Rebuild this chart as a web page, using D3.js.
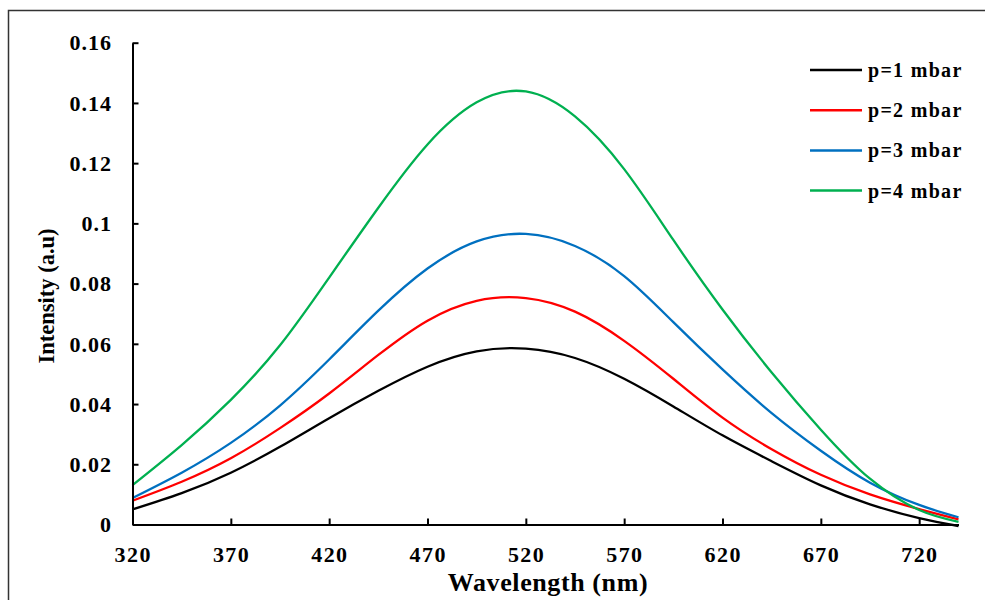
<!DOCTYPE html>
<html lang="en">

<head>
    <meta charset="UTF-8">
    <title>Intensity vs Wavelength</title>
    <style>
        body { margin: 0; background: #fff; }
        text { font-family: "Liberation Serif", "Times New Roman", serif; font-weight: bold; fill: #000; }
    </style>
</head>

<body>
    <svg id="chart" width="985" height="600"></svg>

    <script src="https://cdn.jsdelivr.net/npm/d3@7"></script>
    <script>

        var wavelengths = [320, 345, 370, 395, 420, 445, 470, 495, 520, 545, 570, 595, 620, 645, 670, 695, 720, 740];

        var p1 = [0.0050, 0.0104, 0.0172, 0.0258, 0.0353, 0.0444, 0.0524, 0.0575, 0.0584, 0.0553, 0.0484, 0.0392, 0.0296, 0.0210, 0.0130, 0.0067, 0.0021, -0.0005];
        var p2 = [0.0079, 0.0142, 0.0220, 0.0320, 0.0435, 0.0563, 0.0677, 0.0743, 0.0752, 0.0707, 0.0610, 0.0484, 0.0355, 0.0250, 0.0165, 0.0100, 0.0051, 0.0017];
        var p3 = [0.0088, 0.0172, 0.0271, 0.0395, 0.0548, 0.0710, 0.0850, 0.0940, 0.0965, 0.0925, 0.0825, 0.0672, 0.0515, 0.0370, 0.0245, 0.0139, 0.0065, 0.0024];
        var p4 = [0.0131, 0.0264, 0.0414, 0.0595, 0.0820, 0.1052, 0.1262, 0.1402, 0.1438, 0.1355, 0.1180, 0.0945, 0.0714, 0.0505, 0.0315, 0.0152, 0.0048, 0.0009];

        var seriesNames = ["p=1 mbar", "p=2 mbar", "p=3 mbar", "p=4 mbar"];
        var seriesValues = [p1, p2, p3, p4];
        var colors = ["#000000", "#ff0000", "#0070c0", "#00b050"];

        var xTicks = [320, 370, 420, 470, 520, 570, 620, 670, 720];
        var yTicks = [0, 0.02, 0.04, 0.06, 0.08, 0.1, 0.12, 0.14, 0.16];

        var svg = d3.select("#chart");

        // outer frame
        svg.append("rect")
            .attr("x", 8.5)
            .attr("y", 10.5)
            .attr("width", 1000)
            .attr("height", 620)
            .attr("fill", "none")
            .attr("stroke", "#333")
            .attr("stroke-width", 1.5);

        var x = d3.scaleLinear()
            .domain([320, 740])
            .range([132.5, 958.5]);

        var y = d3.scaleLinear()
            .domain([0, 0.16])
            .range([524.5, 42.7]);

        var line = d3.line()
            .x(function (d) { return x(d[0]); })
            .y(function (d) { return y(d[1]); })
            .curve(d3.curveNatural);

        seriesValues.forEach(function (vals, i) {
            var pts = wavelengths.map(function (w, j) { return [w, vals[j]]; });
            svg.append("path")
                .datum(pts)
                .attr("fill", "none")
                .attr("stroke", colors[i])
                .attr("stroke-width", 2.3)
                .attr("d", line);
        });

        // axes, ticks inside
        svg.append("g")
            .attr("transform", "translate(0," + y(0) + ")")
            .call(d3.axisTop(x).tickValues(xTicks).tickSize(6).tickSizeOuter(0).tickFormat(""));

        svg.append("g")
            .attr("transform", "translate(" + x(320) + ",0)")
            .call(d3.axisRight(y).tickValues(yTicks).tickSize(6).tickSizeOuter(0).tickFormat(""));

        svg.selectAll(".domain, .tick line")
            .attr("stroke", "#000")
            .attr("stroke-width", 2);

        svg.selectAll(".tick text").remove();

        svg.append("g").selectAll("text")
            .data(xTicks)
            .enter().append("text")
            .attr("x", function (d) { return x(d) + 0.7; })
            .attr("y", 562)
            .attr("text-anchor", "middle")
            .style("font-size", "22px")
            .style("letter-spacing", "1.4px")
            .text(function (d) { return d; });

        svg.append("g").selectAll("text")
            .data(yTicks)
            .enter().append("text")
            .attr("x", 112)
            .attr("y", function (d) { return y(d); })
            .attr("dy", "0.35em")
            .attr("text-anchor", "end")
            .style("font-size", "22px")
            .style("letter-spacing", "1px")
            .text(function (d) { return String(+d.toFixed(2)); });

        svg.append("text")
            .attr("x", 548)
            .attr("y", 591)
            .attr("text-anchor", "middle")
            .style("font-size", "26px")
            .style("letter-spacing", "0.6px")
            .text("Wavelength (nm)");

        svg.append("text")
            .attr("transform", "translate(54,296) rotate(-90)")
            .attr("text-anchor", "middle")
            .style("font-size", "22.5px")
            .text("Intensity (a.u)");

        // legend
        var legend = svg.append("g");
        seriesNames.forEach(function (name, i) {
            var ly = 70 + i * 40.2;
            legend.append("line")
                .attr("x1", 810).attr("x2", 862)
                .attr("y1", ly).attr("y2", ly)
                .attr("stroke", colors[i])
                .attr("stroke-width", 2.5);
            legend.append("text")
                .attr("x", 868)
                .attr("y", ly)
                .attr("dy", "0.35em")
                .style("font-size", "20px")
                .style("letter-spacing", "1.3px")
                .text(name);
        });

    </script>
</body>

</html>
